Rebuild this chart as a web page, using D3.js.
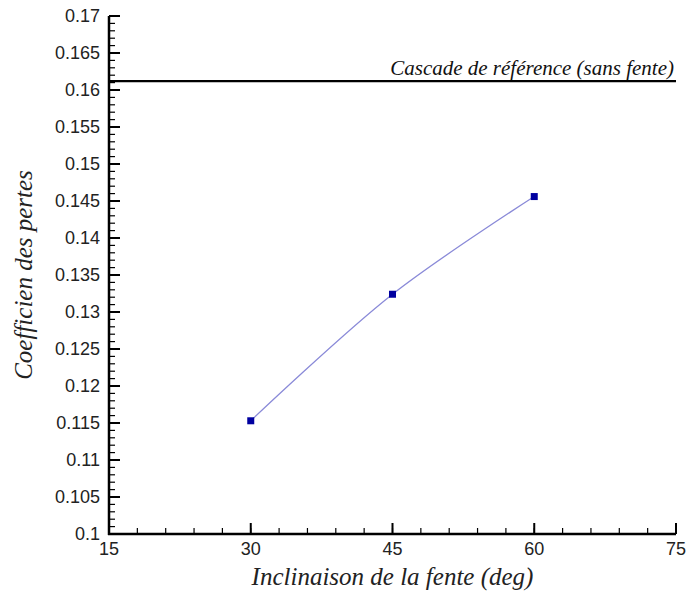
<!DOCTYPE html>
<html><head><meta charset="utf-8">
<script src="https://cdn.jsdelivr.net/npm/d3@7"></script>
<style>body{margin:0;background:#fff}
.sans{font-family:"Liberation Sans",Arial,sans-serif}
</style>
</head><body>
<svg id="c" width="691" height="599"></svg>
<script>
const inclinaison = [30, 45, 60];
const coefficient = [0.1153, 0.1324, 0.1456];
const referenceValue = 0.1612;
const referenceLabel = "Cascade de référence (sans fente)";
const xTicks = [15, 30, 45, 60, 75];
const yTicks = [0.1, 0.105, 0.11, 0.115, 0.12, 0.125, 0.13, 0.135, 0.14, 0.145, 0.15, 0.155, 0.16, 0.165, 0.17];
const xTitle = "Inclinaison de la fente (deg)";
const yTitle = "Coefficien des pertes";

const SERIF = 'font-family:"Liberation Serif";font-style:italic;';
const svg = d3.select("#c");
const L = 109, R = 676, T = 16, B = 534;
const x = d3.scaleLinear().domain([15, 75]).range([L, R]);
const y = d3.scaleLinear().domain([0.1, 0.17]).range([B, T]);

const xMinor = d3.range(15, 75.001, 3);
const yMinor = d3.range(0, 71).map(i => 0.1 + i * 0.001);

const g = svg.append("g");
g.selectAll(".xm").data(xMinor).join("line")
  .attr("x1", d => x(d)).attr("x2", d => x(d))
  .attr("y1", B).attr("y2", B - 6).attr("stroke", "#000").attr("stroke-width", 1.2);
g.selectAll(".xM").data(xTicks).join("line")
  .attr("x1", d => x(d)).attr("x2", d => x(d))
  .attr("y1", B).attr("y2", B - 11).attr("stroke", "#000").attr("stroke-width", 2);
g.selectAll(".ym").data(yMinor).join("line")
  .attr("x1", L).attr("x2", L + 6)
  .attr("y1", d => y(d)).attr("y2", d => y(d)).attr("stroke", "#000").attr("stroke-width", 1.2);
g.selectAll(".yM").data(yTicks).join("line")
  .attr("x1", L).attr("x2", L + 11)
  .attr("y1", d => y(d)).attr("y2", d => y(d)).attr("stroke", "#000").attr("stroke-width", 2);

g.append("line").attr("x1", L).attr("x2", L).attr("y1", T).attr("y2", B + 1).attr("stroke", "#000").attr("stroke-width", 2.5);
g.append("line").attr("x1", L - 1).attr("x2", R).attr("y1", B).attr("y2", B).attr("stroke", "#000").attr("stroke-width", 2.5);

g.selectAll(".yl").data(yTicks).join("text").attr("class", "sans")
  .attr("x", L - 9).attr("y", d => y(d)).attr("dy", "0.35em")
  .attr("text-anchor", "end")
  .attr("font-size", 18).attr("fill", "#222").text(d => String(+d.toFixed(3)));
g.selectAll(".xl").data(xTicks).join("text").attr("class", "sans")
  .attr("x", d => x(d)).attr("y", B + 21)
  .attr("text-anchor", "middle")
  .attr("font-size", 18).attr("fill", "#222").text(d => d);

g.append("line").attr("x1", L).attr("x2", R).attr("y1", y(referenceValue)).attr("y2", y(referenceValue))
  .attr("stroke", "#000").attr("stroke-width", 2.2);
g.append("text").attr("x", 674).attr("y", y(referenceValue) - 6).attr("text-anchor", "end")
  .attr("style", SERIF + "font-size:21px").attr("fill", "#111").text(referenceLabel);

const pts = inclinaison.map((d, i) => [d, coefficient[i]]);
g.append("path").datum(pts)
  .attr("d", d3.line().x(d => x(d[0])).y(d => y(d[1])).curve(d3.curveCatmullRom))
  .attr("fill", "none").attr("stroke", "#8a8ad8").attr("stroke-width", 1.3);
g.selectAll(".pt").data(pts).join("rect")
  .attr("x", d => x(d[0]) - 3.5).attr("y", d => y(d[1]) - 3.5)
  .attr("width", 7).attr("height", 7).attr("fill", "#0000a0");

g.append("text").attr("x", (L + R) / 2).attr("y", 585).attr("text-anchor", "middle")
  .attr("style", SERIF + "font-size:25px").attr("fill", "#222").text(xTitle);
g.append("text").attr("transform", `translate(32,${(T + B) / 2}) rotate(-90)`).attr("text-anchor", "middle")
  .attr("style", SERIF + "font-size:25px").attr("fill", "#222").text(yTitle);
</script>
</body></html>
